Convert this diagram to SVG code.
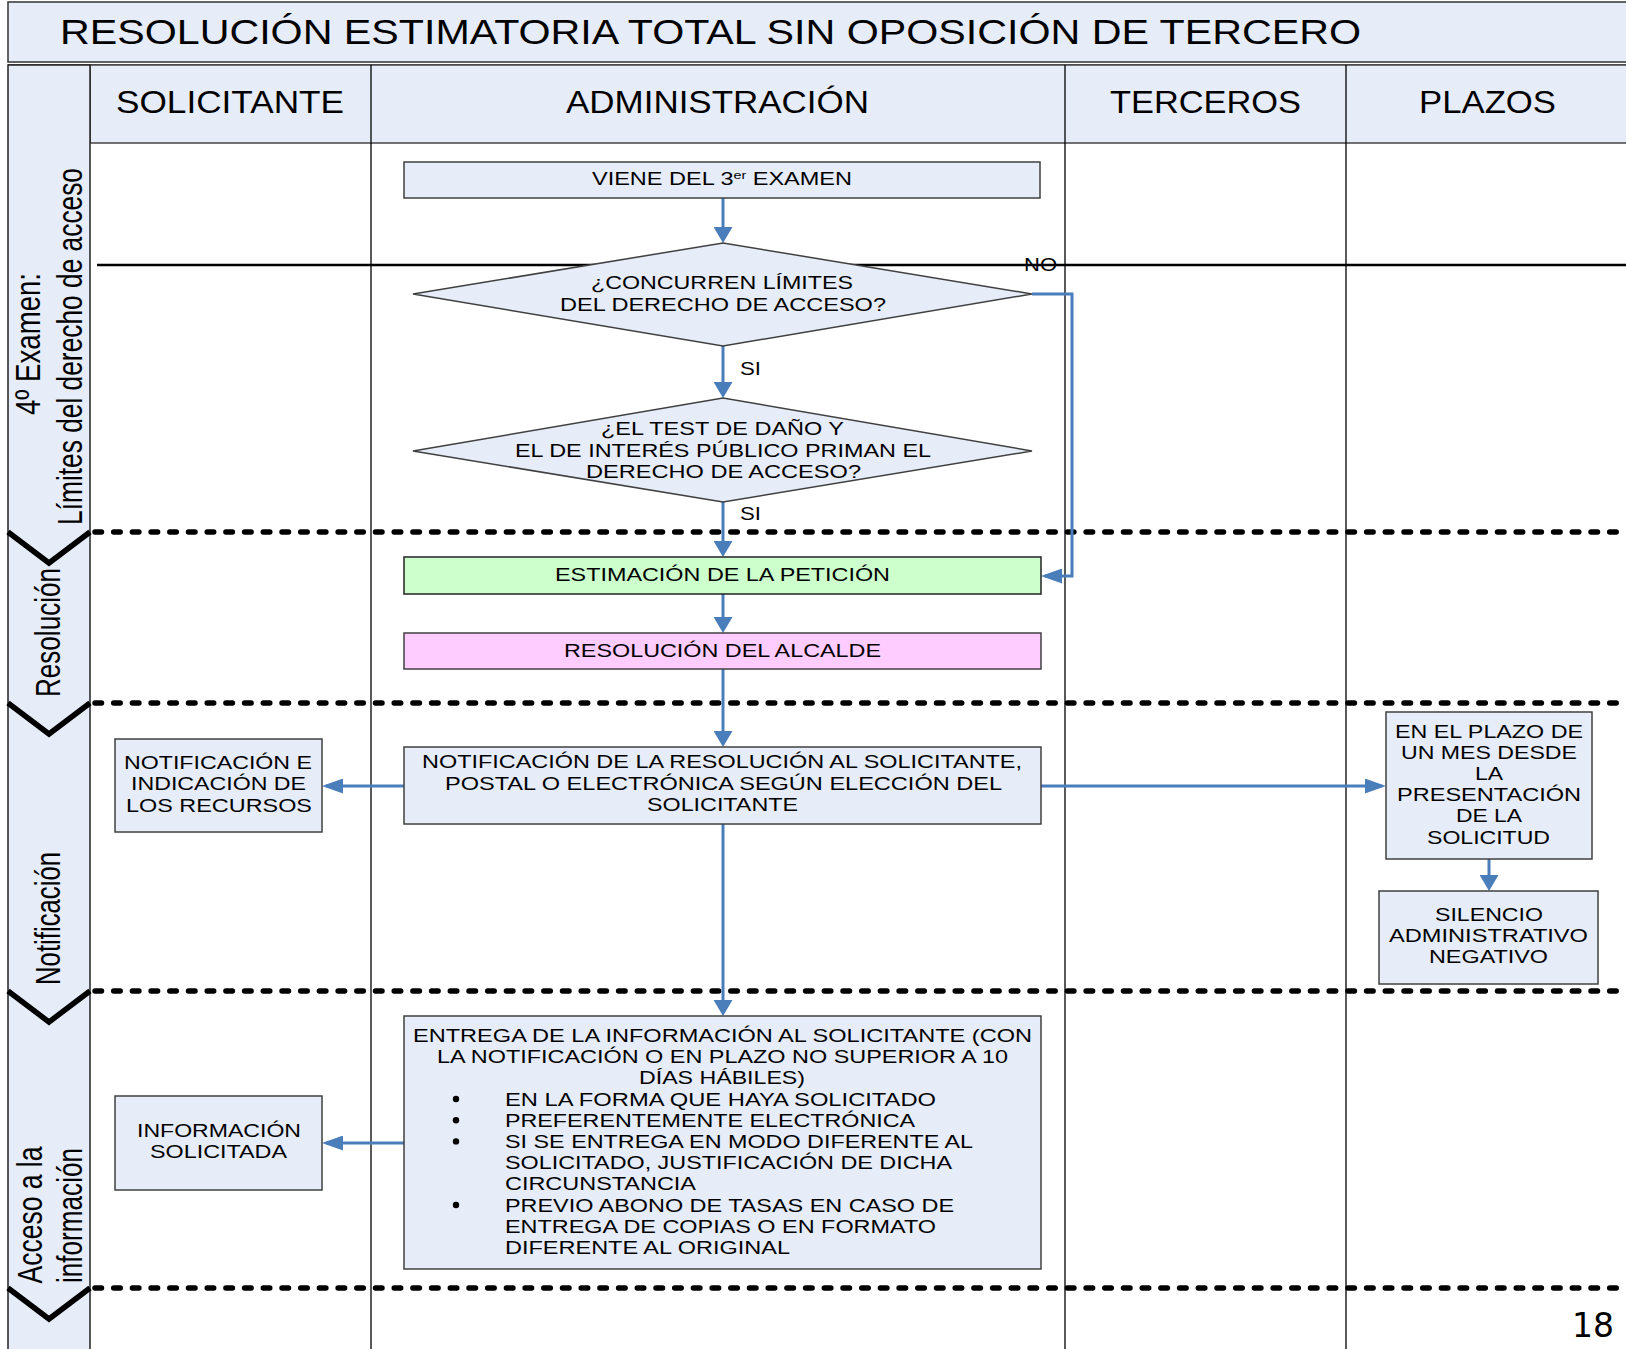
<svg xmlns="http://www.w3.org/2000/svg" width="1626" height="1349" viewBox="0 0 1626 1349">
<style>
  .t { font-family: "Liberation Sans", Arial, sans-serif; fill: #000; }
  .n { font-size: 18px; }
  .hd { font-size: 32px; }
  .rot { font-size: 27px; }
  .box { fill: #E6EDF8; stroke: #404040; stroke-width: 1.5; }
  .conn { fill: none; stroke: #4A7EBB; stroke-width: 3; }
  .sep { fill: none; stroke: #000; stroke-width: 5.5; stroke-linecap: round; stroke-dasharray: 6.5 12.2; }
  .chev { fill: none; stroke: #000; stroke-width: 5.5; stroke-linejoin: miter; }
  .lane { stroke: #000; stroke-width: 1.3; }
</style>
<defs>
  <marker id="arrV" markerUnits="userSpaceOnUse" markerWidth="16" markerHeight="19" viewBox="0 0 16 19" refX="12" refY="9.5" orient="auto">
    <path d="M0,0 L16,9.5 L0,19 Z" fill="#4A7EBB"/>
  </marker>
  <marker id="arrH" markerUnits="userSpaceOnUse" markerWidth="21" markerHeight="15" viewBox="0 0 21 15" refX="17" refY="7.5" orient="auto">
    <path d="M0,0 L21,7.5 L0,15 Z" fill="#4A7EBB"/>
  </marker>
</defs>

<rect x="0" y="0" width="1626" height="1349" fill="#fff"/>

<!-- title bar -->
<g id="title">
  <rect x="8" y="2" width="1640" height="60" fill="#E6EDF8" stroke="#333" stroke-width="1.5"/>
  <text class="t" x="60" y="43.5" font-size="34.5" textLength="1301" lengthAdjust="spacingAndGlyphs">RESOLUCIÓN ESTIMATORIA TOTAL SIN OPOSICIÓN DE TERCERO</text>
</g>

<!-- lane headers and phase strip -->
<g id="lanes">
  <line x1="8" y1="65" x2="1626" y2="65" stroke="#333" stroke-width="1.5"/>
  <rect x="90" y="65" width="1560" height="78" fill="#E6EDF8" stroke="#444" stroke-width="1.5"/>
  <rect x="8" y="65" width="82" height="1300" fill="#E6EDF8" stroke="#222" stroke-width="1.5"/>
  <line class="lane" x1="371" y1="65" x2="371" y2="1349"/>
  <line class="lane" x1="1065" y1="65" x2="1065" y2="1349"/>
  <line class="lane" x1="1346" y1="65" x2="1346" y2="1349"/>
  <text class="t hd" x="116" y="113" textLength="228" lengthAdjust="spacingAndGlyphs">SOLICITANTE</text>
  <text class="t hd" x="566" y="113" textLength="303" lengthAdjust="spacingAndGlyphs">ADMINISTRACIÓN</text>
  <text class="t hd" x="1110" y="113" textLength="191" lengthAdjust="spacingAndGlyphs">TERCEROS</text>
  <text class="t hd" x="1419" y="113" textLength="137" lengthAdjust="spacingAndGlyphs">PLAZOS</text>
</g>

<!-- phase labels -->
<g id="phases">
  <text class="t rot" text-anchor="middle" transform="translate(40,344) scale(1.3,1) rotate(-90)" textLength="142" lengthAdjust="spacingAndGlyphs">4º Examen:</text>
  <text class="t rot" text-anchor="middle" transform="translate(82,346.5) scale(1.3,1) rotate(-90)" textLength="357" lengthAdjust="spacingAndGlyphs">Límites del derecho de acceso</text>
  <text class="t rot" text-anchor="middle" transform="translate(60,632.5) scale(1.3,1) rotate(-90)" textLength="129" lengthAdjust="spacingAndGlyphs">Resolución</text>
  <text class="t rot" text-anchor="middle" transform="translate(60,918.5) scale(1.3,1) rotate(-90)" textLength="133" lengthAdjust="spacingAndGlyphs">Notificación</text>
  <text class="t rot" text-anchor="middle" transform="translate(42,1215) scale(1.3,1) rotate(-90)" textLength="137" lengthAdjust="spacingAndGlyphs">Acceso a la</text>
  <text class="t rot" text-anchor="middle" transform="translate(82,1215.5) scale(1.3,1) rotate(-90)" textLength="135" lengthAdjust="spacingAndGlyphs">información</text>
</g>

<!-- phase separators -->
<g id="separators">
  <line x1="97" y1="265" x2="1626" y2="265" stroke="#000" stroke-width="2.7"/>
  <line class="sep" x1="95" y1="532" x2="1626" y2="532"/>
  <line class="sep" x1="95" y1="703" x2="1626" y2="703"/>
  <line class="sep" x1="95" y1="991" x2="1626" y2="991"/>
  <line class="sep" x1="95" y1="1288" x2="1626" y2="1288"/>
  <polyline class="chev" points="8,532 49,563 90,532"/>
  <polyline class="chev" points="8,703 49,734 90,703"/>
  <polyline class="chev" points="8,991 49,1022 90,991"/>
  <polyline class="chev" points="8,1288 49,1319 90,1288"/>
</g>

<!-- connectors -->
<g id="connectors">
  <path class="conn" d="M723,198 V239" marker-end="url(#arrV)"/>
  <path class="conn" d="M723,346 V394" marker-end="url(#arrV)"/>
  <path class="conn" d="M723,502 V553" marker-end="url(#arrV)"/>
  <path class="conn" d="M1032,294 H1072 V576 H1045" marker-end="url(#arrH)"/>
  <path class="conn" d="M723,594 V629" marker-end="url(#arrV)"/>
  <path class="conn" d="M723,669 V743" marker-end="url(#arrV)"/>
  <path class="conn" d="M404,786 H326" marker-end="url(#arrH)"/>
  <path class="conn" d="M1041,786 H1382" marker-end="url(#arrH)"/>
  <path class="conn" d="M1489,859 V887" marker-end="url(#arrV)"/>
  <path class="conn" d="M723,824 V1012" marker-end="url(#arrV)"/>
  <path class="conn" d="M404,1143 H326" marker-end="url(#arrH)"/>
  <text class="t n" x="740" y="375" textLength="21" lengthAdjust="spacingAndGlyphs">SI</text>
  <text class="t n" x="740" y="520" textLength="21" lengthAdjust="spacingAndGlyphs">SI</text>
  <text class="t" x="1024" y="271" font-size="19" textLength="33" lengthAdjust="spacingAndGlyphs">NO</text>
</g>

<!-- nodes -->
<g id="viene">
  <rect class="box" x="404" y="162" width="636" height="36"/>
  <text class="t n" x="592" y="185" textLength="260" lengthAdjust="spacingAndGlyphs">VIENE DEL 3<tspan font-size="11" dy="-6">er</tspan><tspan dy="6"> EXAMEN</tspan></text>
</g>

<g id="decision-limites">
  <polygon class="box" points="413,294 723,243 1032,294 723,346"/>
  <text class="t n" x="591" y="289" textLength="262" lengthAdjust="spacingAndGlyphs">¿CONCURREN LÍMITES</text>
  <text class="t n" x="560" y="310.5" textLength="326" lengthAdjust="spacingAndGlyphs">DEL DERECHO DE ACCESO?</text>
</g>

<g id="decision-test">
  <polygon class="box" points="413,451 723,398 1032,451 723,502"/>
  <text class="t n" x="601" y="435" textLength="243" lengthAdjust="spacingAndGlyphs">¿EL TEST DE DAÑO Y</text>
  <text class="t n" x="515" y="456.5" textLength="416" lengthAdjust="spacingAndGlyphs">EL DE INTERÉS PÚBLICO PRIMAN EL</text>
  <text class="t n" x="586" y="477.5" textLength="275" lengthAdjust="spacingAndGlyphs">DERECHO DE ACCESO?</text>
</g>

<g id="estimacion">
  <rect x="404" y="557" width="637" height="37" fill="#CCFFCC" stroke="#222" stroke-width="1.5"/>
  <text class="t n" x="555" y="581" textLength="335" lengthAdjust="spacingAndGlyphs">ESTIMACIÓN DE LA PETICIÓN</text>
</g>

<g id="resolucion">
  <rect x="404" y="633" width="637" height="36" fill="#FFCCFF" stroke="#404040" stroke-width="1.5"/>
  <text class="t n" x="564" y="657" textLength="317" lengthAdjust="spacingAndGlyphs">RESOLUCIÓN DEL ALCALDE</text>
</g>

<g id="notificacion">
  <rect class="box" x="404" y="747" width="637" height="77"/>
  <text class="t n" x="422" y="768" textLength="600" lengthAdjust="spacingAndGlyphs">NOTIFICACIÓN DE LA RESOLUCIÓN AL SOLICITANTE,</text>
  <text class="t n" x="445" y="790" textLength="557" lengthAdjust="spacingAndGlyphs">POSTAL O ELECTRÓNICA SEGÚN ELECCIÓN DEL</text>
  <text class="t n" x="647" y="811" textLength="151" lengthAdjust="spacingAndGlyphs">SOLICITANTE</text>
</g>

<g id="notificacion-recursos">
  <rect class="box" x="115" y="739" width="207" height="93"/>
  <text class="t n" x="124" y="769" textLength="188" lengthAdjust="spacingAndGlyphs">NOTIFICACIÓN E</text>
  <text class="t n" x="131" y="790" textLength="175" lengthAdjust="spacingAndGlyphs">INDICACIÓN DE</text>
  <text class="t n" x="126" y="812" textLength="186" lengthAdjust="spacingAndGlyphs">LOS RECURSOS</text>
</g>

<g id="plazo-mes">
  <rect class="box" x="1386" y="712" width="206" height="147"/>
  <text class="t n" x="1395" y="737.5" textLength="188" lengthAdjust="spacingAndGlyphs">EN EL PLAZO DE</text>
  <text class="t n" x="1401" y="758.7" textLength="176" lengthAdjust="spacingAndGlyphs">UN MES DESDE</text>
  <text class="t n" x="1475" y="779.9" textLength="28" lengthAdjust="spacingAndGlyphs">LA</text>
  <text class="t n" x="1397" y="801.1" textLength="184" lengthAdjust="spacingAndGlyphs">PRESENTACIÓN</text>
  <text class="t n" x="1456" y="822.3" textLength="66" lengthAdjust="spacingAndGlyphs">DE LA</text>
  <text class="t n" x="1427" y="843.5" textLength="123" lengthAdjust="spacingAndGlyphs">SOLICITUD</text>
</g>

<g id="silencio">
  <rect class="box" x="1379" y="891" width="219" height="93"/>
  <text class="t n" x="1435" y="921" textLength="108" lengthAdjust="spacingAndGlyphs">SILENCIO</text>
  <text class="t n" x="1389" y="942" textLength="199" lengthAdjust="spacingAndGlyphs">ADMINISTRATIVO</text>
  <text class="t n" x="1429" y="963" textLength="119" lengthAdjust="spacingAndGlyphs">NEGATIVO</text>
</g>

<g id="entrega">
  <rect class="box" x="404" y="1016" width="637" height="253"/>
  <text class="t n" x="413" y="1042" textLength="619" lengthAdjust="spacingAndGlyphs">ENTREGA DE LA INFORMACIÓN AL SOLICITANTE (CON</text>
  <text class="t n" x="437" y="1063" textLength="571" lengthAdjust="spacingAndGlyphs">LA NOTIFICACIÓN O EN PLAZO NO SUPERIOR A 10</text>
  <text class="t n" x="639" y="1084" textLength="166" lengthAdjust="spacingAndGlyphs">DÍAS HÁBILES)</text>
  <circle cx="456" cy="1099" r="3.2"/>
  <circle cx="456" cy="1120.2" r="3.2"/>
  <circle cx="456" cy="1141.4" r="3.2"/>
  <circle cx="456" cy="1205" r="3.2"/>
  <text class="t n" x="505" y="1105.5" textLength="431" lengthAdjust="spacingAndGlyphs">EN LA FORMA QUE HAYA SOLICITADO</text>
  <text class="t n" x="505" y="1126.7" textLength="410" lengthAdjust="spacingAndGlyphs">PREFERENTEMENTE ELECTRÓNICA</text>
  <text class="t n" x="505" y="1147.9" textLength="468" lengthAdjust="spacingAndGlyphs">SI SE ENTREGA EN MODO DIFERENTE AL</text>
  <text class="t n" x="505" y="1169.1" textLength="447" lengthAdjust="spacingAndGlyphs">SOLICITADO, JUSTIFICACIÓN DE DICHA</text>
  <text class="t n" x="505" y="1190.3" textLength="191" lengthAdjust="spacingAndGlyphs">CIRCUNSTANCIA</text>
  <text class="t n" x="505" y="1211.5" textLength="449" lengthAdjust="spacingAndGlyphs">PREVIO ABONO DE TASAS EN CASO DE</text>
  <text class="t n" x="505" y="1232.7" textLength="431" lengthAdjust="spacingAndGlyphs">ENTREGA DE COPIAS O EN FORMATO</text>
  <text class="t n" x="505" y="1253.9" textLength="285" lengthAdjust="spacingAndGlyphs">DIFERENTE AL ORIGINAL</text>
</g>

<g id="informacion">
  <rect class="box" x="115" y="1096" width="207" height="94"/>
  <text class="t n" x="137" y="1137" textLength="164" lengthAdjust="spacingAndGlyphs">INFORMACIÓN</text>
  <text class="t n" x="150" y="1158" textLength="137" lengthAdjust="spacingAndGlyphs">SOLICITADA</text>
</g>

<text id="page" x="1614" y="1337" text-anchor="end" font-family="'DejaVu Sans', Verdana, sans-serif" font-size="33" fill="#000">18</text>
</svg>
